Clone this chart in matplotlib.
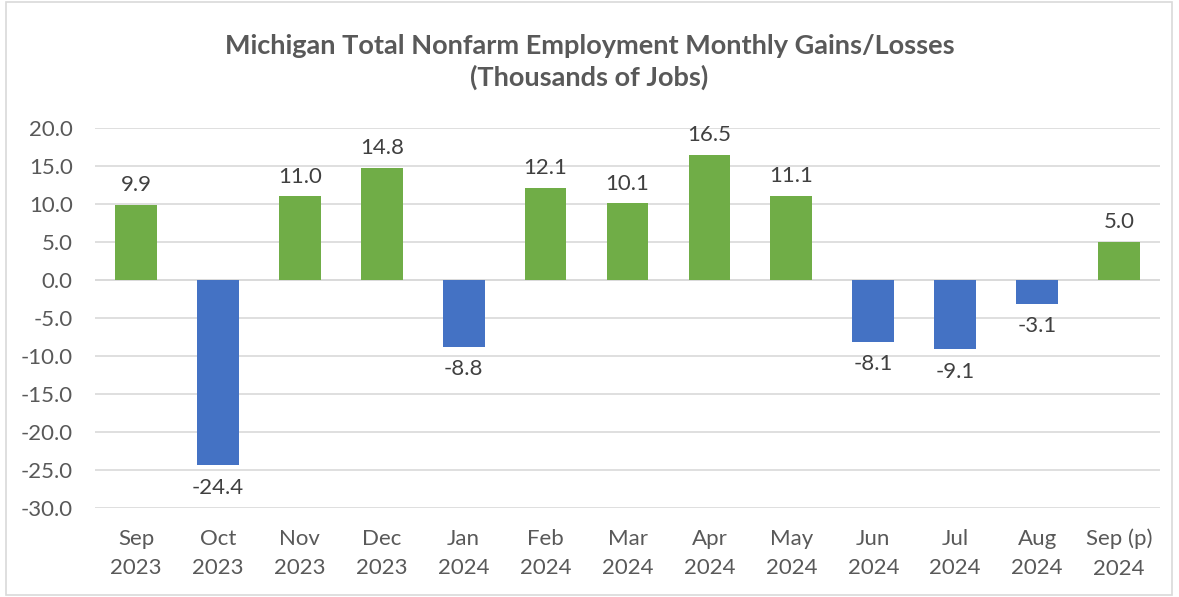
import numpy as np
import matplotlib.pyplot as plt
from matplotlib.patches import Rectangle

months = ["Sep\n2023", "Oct\n2023", "Nov\n2023", "Dec\n2023", "Jan\n2024", "Feb\n2024",
          "Mar\n2024", "Apr\n2024", "May\n2024", "Jun\n2024", "Jul\n2024", "Aug\n2024",
          "Sep (p)\n2024"]
changes = [9.9, -24.4, 11.0, 14.8, -8.8, 12.1, 10.1, 16.5, 11.1, -8.1, -9.1, -3.1, 5.0]

plt.rcParams['font.family'] = ['Lato', 'DejaVu Sans']

fig = plt.figure(figsize=(11.79, 5.97), dpi=100)
ax = fig.add_axes([0.0806, 0.149, 0.9033, 0.6366])

x = np.arange(len(months))
colors = ['#70AD47' if v >= 0 else '#4472C4' for v in changes]
ax.bar(x, changes, width=0.51, color=colors, zorder=3)

# data labels
for xi, v in zip(x, changes):
    if v >= 0:
        ax.annotate(f"{v:.1f}", (xi, v), xytext=(0, 7), textcoords='offset points',
                    ha='center', va='bottom', fontsize=16, color='#404040')
    else:
        ax.annotate(f"{v:.1f}", (xi, v), xytext=(0, -9), textcoords='offset points',
                    ha='center', va='top', fontsize=16, color='#404040')

ax.set_ylim(-30, 20)
ax.set_xlim(-0.5, len(months) - 0.5)
ax.set_yticks(np.arange(-30, 21, 5))
ax.set_yticklabels([f"{t:.1f}" for t in np.arange(-30, 21, 5)])
ax.set_xticks(x)
ax.set_xticklabels(months, linespacing=1.6)
ax.tick_params(axis='both', length=0, labelsize=16, labelcolor='#595959')
ax.tick_params(axis='y', pad=16)
ax.tick_params(axis='x', pad=15)
ax.grid(axis='y', color='#D9D9D9', linewidth=1.2, zorder=0)
ax.axhline(0, color='#D9D9D9', linewidth=1.2, zorder=2)
for s in ax.spines.values():
    s.set_visible(False)

fig.text(0.5, 0.896, "Michigan Total Nonfarm Employment Monthly Gains/Losses\n(Thousands of Jobs)",
         ha='center', va='center', fontsize=19.5, fontweight='bold', color='#595959',
         linespacing=1.35)

# outer chart border
fig.patches.append(Rectangle((0.005, 0.004), 0.989, 0.992, transform=fig.transFigure,
                             fill=False, edgecolor='#D9D9D9', linewidth=1.2))

fig.savefig('out.png', dpi=100)
